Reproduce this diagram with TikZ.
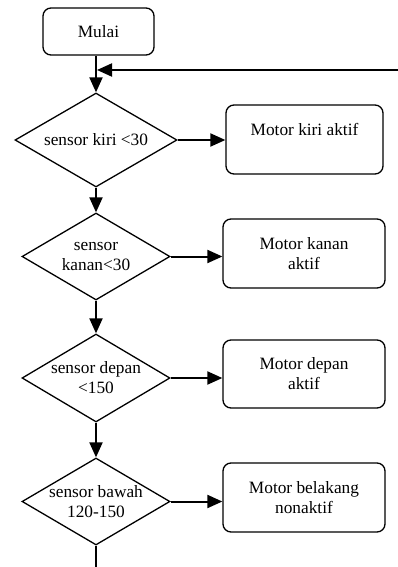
\documentclass[tikz,border=0pt]{standalone}
\usepackage{fontspec}
\setmainfont{Liberation Serif}
\usetikzlibrary{shapes.geometric,arrows.meta}
\begin{document}
\begin{tikzpicture}[x=1pt,y=-1pt,
  every node/.style={font=\fontsize{17.3}{20}\selectfont},
  dec/.style={shape=diamond,draw,line width=1.3pt,aspect=1.7,inner sep=-3pt,align=center},
  procbox/.style={draw,rounded corners=8pt,line width=1.3pt,align=center,inner sep=0pt},
  flowline/.style={line width=2pt},
  conn/.style={flowline,-{Triangle[length=15pt,width=13pt]}},
  ]
\useasboundingbox (0,0) rectangle (398,567);
% start
\node[procbox,minimum width=111pt,minimum height=47pt] (mulai) at (98.5,31.5) {Mulai};
% decisions
\node[dec,minimum width=162pt,minimum height=94pt] (d1) at (96,140) {sensor kiri <30};
\node[dec,minimum width=148pt,minimum height=87pt] (d2) at (96,256.5) {sensor\\kanan<30};
\node[dec,minimum width=148pt,minimum height=88pt] (d3) at (96,378) {sensor depan\\<150};
\node[dec,minimum width=148pt,minimum height=87pt] (d4) at (96,501.5) {sensor bawah\\120-150};
% actions
\node[procbox,minimum width=157pt,minimum height=69pt] (b1) at (304.5,139.5) {Motor kiri aktif\\\mbox{}};
\node[procbox,minimum width=162pt,minimum height=69pt] (b2) at (304,253.5) {Motor kanan\\aktif};
\node[procbox,minimum width=162pt,minimum height=68pt] (b3) at (304,374) {Motor depan\\aktif};
\node[procbox,minimum width=162pt,minimum height=69pt] (b4) at (304,497.5) {Motor belakang\\nonaktif};
% loop-back and end
\coordinate (fbstart) at (398,70);
\coordinate (endp) at (96,567);
% connectors
\draw[conn] (mulai.south -| d1.north) -- (d1.north);
\draw[conn,shorten >=1pt] (fbstart) -- (fbstart -| d1.north);
\draw[conn] (d1.south) -- (d2.north);
\draw[conn] (d2.south) -- (d3.north);
\draw[conn] (d3.south) -- (d4.north);
\draw[flowline] (d4.south) -- (endp);
\draw[conn] (d1.east) -- (d1.east -| b1.west);
\draw[conn] (d2.east) -- (d2.east -| b2.west);
\draw[conn] (d3.east) -- (d3.east -| b3.west);
\draw[conn] (d4.east) -- (d4.east -| b4.west);
\end{tikzpicture}
\end{document}
